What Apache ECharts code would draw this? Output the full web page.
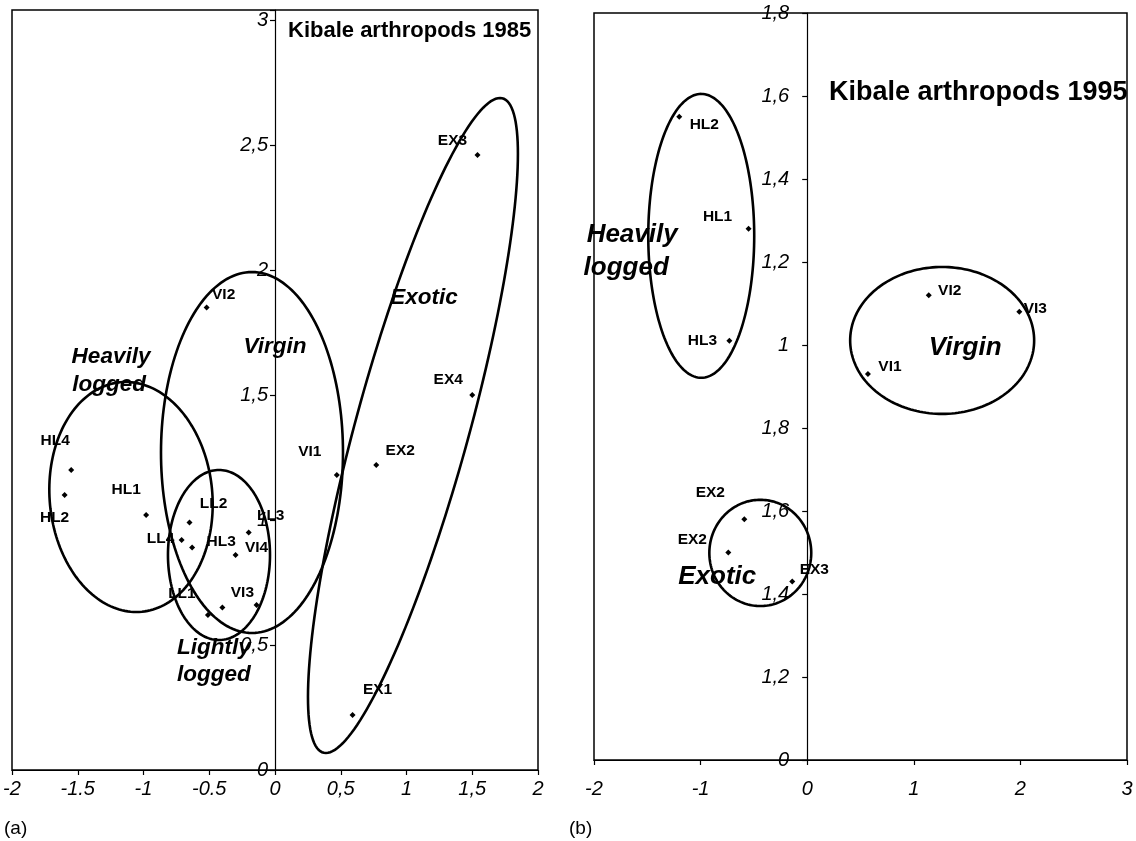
<!DOCTYPE html>
<html><head><meta charset="utf-8">
<script src="https://cdn.jsdelivr.net/npm/echarts@6/dist/echarts.min.js"></script>
<style>html,body{margin:0;padding:0;background:#fff}#c{width:1136px;height:841px}</style>
</head><body><div id="c"></div>
<script>
// ---------- Panel (a): Kibale arthropods 1985 ----------
const namesA = ['EX3','EX4','EX2','VI1','EX1','VI2','HL4','HL2','HL1','LL2','LL4','HL3','LL3','VI4','LL1','VI3',''];
const xA = [1.54, 1.50, 0.77, 0.47, 0.59, -0.52, -1.55, -1.60, -0.98, -0.65, -0.71, -0.63, -0.20, -0.30, -0.51, -0.40, -0.14];
const yA = [2.46, 1.50, 1.22, 1.18, 0.22, 1.85, 1.20, 1.10, 1.02, 0.99, 0.92, 0.89, 0.95, 0.86, 0.62, 0.65, 0.66];
// ellipse outlines: centre x, centre y, x-cos term, x-sin term, y-cos term
const ellipsesA = [
  [-1.095, 1.092, -0.04, 0.62, 0.46],
  [-0.175, 1.27, 0, 0.692, 0.722],
  [-0.426, 0.86, 0, 0.388, 0.34],
  [1.049, 1.378, 0.662, 0.446, 1.31]
];
const groupTextA = ['Heavily', 'logged', 'Virgin', 'Exotic', 'Lightly', 'logged'];
const groupXA = [-1.247, -1.262, 0.0, 1.133, -0.464, -0.464];
const groupYA = [1.652, 1.54, 1.692, 1.888, 0.488, 0.38];
const xTickA = ['-2','-1.5','-1','-0.5','0','0,5','1','1,5','2'];
const yTickA = ['0','0,5','1','1,5','2','2,5','3'];

// ---------- Panel (b): Kibale arthropods 1995 ----------
const namesB = ['HL2','HL1','HL3','VI2','VI3','VI1','EX2','EX2','EX3'];
const xB = [-1.20, -0.55, -0.73, 1.14, 1.99, 0.57, -0.59, -0.74, -0.14];
const yB = [1.55, 1.28, 1.01, 1.12, 1.08, 0.93, 0.58, 0.50, 0.43];
const ellipsesB = [
  [-0.994, 1.263, 0, 0.497, 0.342],
  [1.266, 1.011, 0, 0.863, 0.177],
  [-0.44, 0.499, 0, 0.478, 0.128]
];
const groupTextB = ['Heavily', 'logged', 'Virgin', 'Exotic'];
const groupXB = [-1.642, -1.698, 1.482, -0.844];
const groupYB = [1.265, 1.186, 0.993, 0.441];
const xTickB = ['-2','-1','0','1','2','3'];
const yTickB = ['0','1,2','1,4','1,6','1,8','1','1,2','1,4','1,6','1,8'];

// label placement (pixel offsets from each point) - styling only
const labelOffA = [[-25,-14],[-24,-15],[24,-14],[-27,-23],[25,-25],[17,-13],[-16,-29],[-10,23],[-20,-25],[24,-19],[-21,-1],[29,-6],[22,-17],[21,-7],[-26,-21],[20,-15],[0,0]];
const labelOffB = [[25,8],[-31,-12],[-27,0],[21,-4],[16,-3],[22,-7],[-34,-27],[-36,-13],[22,-12]];

const FONT = 'Liberation Sans, Arial, Helvetica, sans-serif';

function tickFmt(labels, start, step) {
  return function (v) {
    const i = Math.round((v - start) / step);
    if (Math.abs(v - (start + i * step)) > 1e-6) return '';
    return labels[i] !== undefined ? labels[i] : '';
  };
}

const plainText = { textBorderWidth: 0, textShadowBlur: 0, textBorderColor: 'transparent', opacity: 1 };

function pointSeries(names, xs, ys, offs, idx) {
  return {
    type: 'scatter', xAxisIndex: idx, yAxisIndex: idx,
    symbol: 'diamond', symbolSize: 6, clip: false,
    itemStyle: { color: '#000', opacity: 1 },
    label: Object.assign({ show: true, position: 'inside', color: '#000', fontFamily: FONT, fontWeight: 'bold', fontSize: 15.5,
      formatter: p => p.name }, plainText),
    data: names.map((n, i) => ({ name: n, value: [xs[i], ys[i]], label: { offset: offs[i] } })),
    silent: true, z: 5
  };
}

function ellipseSeries(data, idx) {
  return {
    type: 'custom', xAxisIndex: idx, yAxisIndex: idx,
    dimensions: ['cx', 'cy', 'a', 'b', 'ry'],
    encode: { x: 0, y: 1 },
    clip: false, silent: true, z: 3,
    renderItem: function (params, api) {
      const cx = api.value(0), cy = api.value(1), a = api.value(2), b = api.value(3), ry = api.value(4);
      const pts = [];
      for (let k = 0; k < 180; k++) {
        const t = k / 180 * Math.PI * 2;
        pts.push(api.coord([cx + a * Math.cos(t) + b * Math.sin(t), cy + ry * Math.cos(t)]));
      }
      return { type: 'polygon', shape: { points: pts }, style: { fill: 'none', stroke: '#000', lineWidth: 2.6 } };
    },
    data: data
  };
}

function groupSeries(texts, xs, ys, idx, size) {
  return {
    type: 'scatter', xAxisIndex: idx, yAxisIndex: idx, symbolSize: 0, clip: false, silent: true, z: 6,
    itemStyle: { color: '#000', opacity: 1 },
    label: Object.assign({ show: true, position: 'inside', color: '#000', fontFamily: FONT, fontWeight: 'bold', fontStyle: 'italic', fontSize: size,
      formatter: p => p.name }, plainText),
    data: texts.map((t, i) => ({ name: t, value: [xs[i], ys[i]] }))
  };
}

const axisLineX = { show: true, onZero: false, lineStyle: { color: '#000', width: 1.2 } };
const axisLineY = { show: true, onZero: false, lineStyle: { color: '#000', width: 1.2 } };
const tickStyle = { show: true, length: 5, lineStyle: { color: '#000', width: 1.2 } };
const labelBase = { color: '#000', fontFamily: FONT, fontStyle: 'italic', fontSize: 20 };

const option = {
  backgroundColor: '#fff',
  animation: false,
  title: [
    { text: 'Kibale arthropods 1985', left: 288, top: 20, padding: 0,
      textStyle: { fontFamily: FONT, fontWeight: 'bold', fontSize: 22, color: '#000' } },
    { text: 'Kibale arthropods 1995', left: 829, top: 79, padding: 0,
      textStyle: { fontFamily: FONT, fontWeight: 'bold', fontSize: 27, color: '#000' } },
    { text: '(a)', left: 4, top: 819, padding: 0, textStyle: { fontFamily: FONT, fontWeight: 'normal', fontSize: 19, color: '#000' } },
    { text: '(b)', left: 569, top: 819, padding: 0, textStyle: { fontFamily: FONT, fontWeight: 'normal', fontSize: 19, color: '#000' } }
  ],
  grid: [
    { left: 12, top: 10, width: 526, height: 760, show: true, borderColor: '#000', borderWidth: 1.5,
      backgroundColor: 'transparent', containLabel: false, outerBoundsMode: 'none' },
    { left: 594, top: 13, width: 533, height: 747, show: true, borderColor: '#000', borderWidth: 1.5,
      backgroundColor: 'transparent', containLabel: false, outerBoundsMode: 'none' }
  ],
  xAxis: [
    { type: 'value', gridIndex: 0, min: -2, max: 2, interval: 0.5, splitLine: { show: false }, position: 'bottom',
      axisLine: axisLineX, axisTick: tickStyle,
      axisLabel: Object.assign({}, labelBase, { margin: 9, formatter: tickFmt(xTickA, -2, 0.5) }) },
    { type: 'value', gridIndex: 1, min: -2, max: 3, interval: 1, splitLine: { show: false }, position: 'bottom',
      axisLine: axisLineX, axisTick: tickStyle,
      axisLabel: Object.assign({}, labelBase, { margin: 19, formatter: tickFmt(xTickB, -2, 1) }) }
  ],
  yAxis: [
    // axis drawn at x = 0 of panel (a): grid width 526 px over 4 units -> 263 px from the left edge
    { type: 'value', gridIndex: 0, min: 0, max: 3.04, interval: 0.5, splitLine: { show: false }, position: 'left', offset: -263,
      axisLine: axisLineY, axisTick: tickStyle,
      axisLabel: Object.assign({}, labelBase, { margin: 7, formatter: tickFmt(yTickA, 0, 0.5) }) },
    // axis drawn at x = 0 of panel (b): 533 px over 5 units -> 213.2 px from the left edge
    { type: 'value', gridIndex: 1, min: 0, max: 1.8, interval: 0.2, splitLine: { show: false }, position: 'left', offset: -213.2,
      axisLine: axisLineY, axisTick: tickStyle,
      axisLabel: Object.assign({}, labelBase, { margin: 18, formatter: tickFmt(yTickB, 0, 0.2) }) }
  ],
  series: [
    ellipseSeries(ellipsesA, 0),
    pointSeries(namesA, xA, yA, labelOffA, 0),
    groupSeries(groupTextA, groupXA, groupYA, 0, 22.5),
    ellipseSeries(ellipsesB, 1),
    pointSeries(namesB, xB, yB, labelOffB, 1),
    groupSeries(groupTextB, groupXB, groupYB, 1, 26)
  ]
};

const chart = echarts.init(document.getElementById('c'), null, { renderer: 'canvas' });
chart.setOption(option);
</script>
</body></html>
